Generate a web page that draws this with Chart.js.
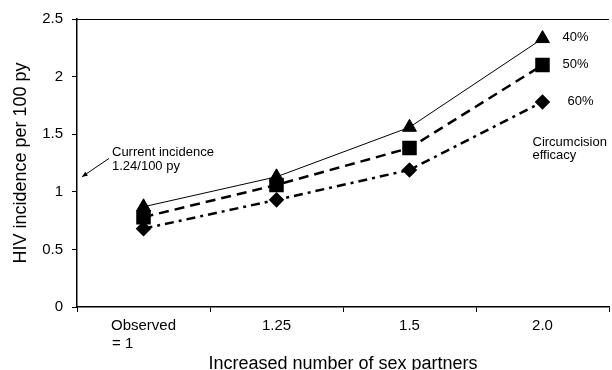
<!DOCTYPE html>
<html>
<head>
<meta charset="utf-8">
<script src="https://cdn.jsdelivr.net/npm/chart.js@4.4.1/dist/chart.umd.min.js"></script>
<style>
  html, body { margin: 0; padding: 0; background: #fff; overflow: hidden; }
  #wrap { width: 612px; height: 370px; overflow: hidden; }
</style>
</head>
<body>
<div id="wrap"><canvas id="chart" width="620" height="373"></canvas></div>
<script>
// categories on the x axis (first one is two lines, padded so it sits left)
const partnerLabels = [['Observed', '= 1          '], '1.25', '1.5', '2.0'];

// incidence per 100 py for each circumcision efficacy
const eff40 = [0.87, 1.13, 1.56, 2.33];
const eff50 = [0.78, 1.06, 1.38, 2.10];
const eff60 = [0.68, 0.93, 1.19, 1.78];
const efficacyLabels = ['40%', '50%', '60%'];

const yTicks = [0, 0.5, 1, 1.5, 2, 2.5];
const currentIncidence = 1.13; // where the arrow points on the y axis

const FONT = "'Liberation Sans', Arial, sans-serif";

const notes = {
  id: 'notes',
  afterDatasetsDraw(chart) {
    const ctx = chart.ctx;
    const xs = chart.scales.x, ys = chart.scales.y;
    const area = chart.chartArea;
    ctx.save();
    ctx.fillStyle = '#000';
    ctx.strokeStyle = '#000';
    ctx.font = '13px ' + FONT;
    ctx.textBaseline = 'middle';
    ctx.textAlign = 'left';

    // top border line
    ctx.lineWidth = 1;
    ctx.beginPath();
    ctx.moveTo(area.left, area.top + 0.5);
    ctx.lineTo(area.right, area.top + 0.5);
    ctx.stroke();

    // efficacy labels at the end of each line
    const last = xs.getPixelForValue(3);
    const series = [eff40, eff50, eff60];
    const dx = [20, 20, 25];
    series.forEach((s, i) => {
      ctx.fillText(efficacyLabels[i], last + dx[i], ys.getPixelForValue(s[3]) - 1);
    });
    ctx.fillText('Circumcision', last - 10, ys.getPixelForValue(1.43));
    ctx.fillText('efficacy', last - 10, ys.getPixelForValue(1.32));

    // current incidence note + arrow
    const tx = area.left + 35;
    ctx.fillText('Current incidence', tx, ys.getPixelForValue(1.34));
    ctx.fillText('1.24/100 py', tx, ys.getPixelForValue(1.22));
    const tipX = area.left + 5, tipY = ys.getPixelForValue(currentIncidence);
    const fromX = tx - 3, fromY = ys.getPixelForValue(1.29);
    ctx.beginPath();
    ctx.moveTo(fromX, fromY);
    ctx.lineTo(tipX, tipY);
    ctx.stroke();
    const ang = Math.atan2(tipY - fromY, tipX - fromX);
    ctx.beginPath();
    ctx.moveTo(tipX, tipY);
    ctx.lineTo(tipX - 6 * Math.cos(ang - 0.4), tipY - 6 * Math.sin(ang - 0.4));
    ctx.lineTo(tipX - 6 * Math.cos(ang + 0.4), tipY - 6 * Math.sin(ang + 0.4));
    ctx.closePath();
    ctx.fill();
    ctx.restore();
  }
};

new Chart(document.getElementById('chart').getContext('2d'), {
  type: 'line',
  data: {
    labels: partnerLabels,
    datasets: [
      {
        label: efficacyLabels[0], data: eff40,
        borderColor: '#000', backgroundColor: '#000', borderWidth: 1,
        pointStyle: 'triangle', pointRadius: 8, tension: 0
      },
      {
        label: efficacyLabels[1], data: eff50,
        borderColor: '#000', backgroundColor: '#000', borderWidth: 2.5,
        borderDash: [10, 6],
        pointStyle: 'rect', pointRadius: 8.5, tension: 0
      },
      {
        label: efficacyLabels[2], data: eff60,
        borderColor: '#000', backgroundColor: '#000', borderWidth: 2.5,
        borderDash: [9, 5, 3, 5],
        pointStyle: 'rectRot', pointRadius: 6, tension: 0
      }
    ]
  },
  options: {
    responsive: false,
    animation: false,
    layout: { padding: { top: 19, right: 2, left: 8, bottom: 0 } },
    plugins: { legend: { display: false }, tooltip: { enabled: false } },
    scales: {
      x: {
        offset: true,
        grid: { offset: true, drawOnChartArea: false, tickLength: 5, tickColor: '#000' },
        border: { color: '#000', width: 1.5 },
        ticks: { color: '#000', font: { family: FONT, size: 15 }, padding: 5, maxRotation: 0 },
        title: {
          display: true, text: 'Increased number of sex partners', color: '#000',
          font: { family: FONT, size: 18, lineHeight: 1 }, padding: { top: 0, bottom: 0 }
        },
        afterFit(scale) { scale.height = 66; }
      },
      y: {
        min: 0, max: 2.5,
        afterBuildTicks(scale) { scale.ticks = yTicks.map(v => ({ value: v })); },
        grid: {
          color: 'transparent',
          tickColor: '#000', tickLength: 5
        },
        border: { color: '#000', width: 1.5 },
        ticks: {
          color: '#000', font: { family: FONT, size: 15 }, padding: 9,
          callback: v => String(v)
        },
        title: {
          display: true, text: 'HIV incidence per 100 py', color: '#000',
          font: { family: FONT, size: 18, lineHeight: 1 }, padding: { top: 4, bottom: 4 }
        },
        afterFit(scale) { scale.width = 69; }
      }
    }
  },
  plugins: [notes]
});
</script>
</body>
</html>
